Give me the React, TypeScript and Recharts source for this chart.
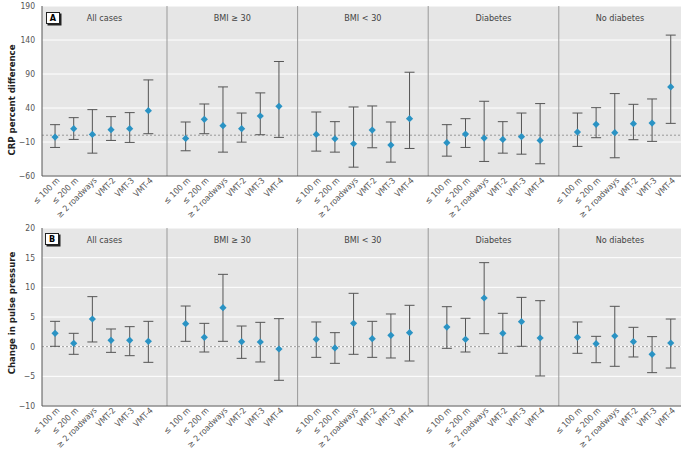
import React from 'react';
import {
  ComposedChart, Scatter, ErrorBar, XAxis, YAxis,
  CartesianGrid, ReferenceLine, ReferenceArea
} from 'recharts';

const facets = ['All cases', 'BMI ≥ 30', 'BMI < 30', 'Diabetes', 'No diabetes'];
const exposures = ['≤ 100 m', '≤ 200 m', '≥ 2 roadways', 'VMT-2', 'VMT-3', 'VMT-4'];

// Panel A - CRP percent difference (one row per facet)
const crpEst = [
  [-2.8, 9.6, 1.2, 8.1, 9.6, 36.1],
  [-4.7, 23.3, 14, 9.6, 28.2, 42.5],
  [1.2, -5.2, -12.6, 7.6, -14.5, 24.3],
  [-11, 1.7, -4.2, -6.2, -2.2, -7.7],
  [4.6, 16, 3.7, 17, 17.9, 71],
];
const crpLow = [
  [-18, -6.2, -26.4, -7.7, -10.6, 2.2],
  [-22.9, 2.2, -24.9, -10.2, 0.7, -3.2],
  [-23.4, -24.9, -47, -18.5, -39.6, -19.5],
  [-30.8, -18, -38.6, -26.4, -27.9, -42],
  [-16.5, -3.7, -33.2, -6.6, -9.1, 17.4],
];
const crpHigh = [
  [15.5, 25.8, 37.6, 27.3, 33.2, 81.3],
  [19.4, 45.9, 71, 32.6, 62.2, 108.4],
  [34.1, 19.9, 41.5, 43, 19.4, 92.6],
  [15.5, 24.3, 49.9, 19.9, 32.6, 46.5],
  [32.6, 40.5, 61.2, 45.4, 53.3, 147.2],
];

// Panel B - change in pulse pressure
const ppEst = [
  [2.25, 0.56, 4.66, 1.07, 1.07, 0.9],
  [3.88, 1.57, 6.57, 0.84, 0.79, -0.39],
  [1.24, -0.22, 3.93, 1.35, 1.91, 2.36],
  [3.31, 1.24, 8.2, 2.25, 4.21, 1.46],
  [1.57, 0.51, 1.8, 0.84, -1.29, 0.62],
];
const ppLow = [
  [0.06, -1.29, 0.79, -0.96, -1.52, -2.64],
  [0.9, -0.9, 0.9, -1.97, -2.58, -5.67],
  [-1.8, -2.81, -1.29, -1.8, -1.91, -2.42],
  [-0.28, -0.9, 2.19, -1.12, 0.06, -4.94],
  [-1.12, -2.7, -3.31, -1.74, -4.38, -3.6],
];
const ppHigh = [
  [4.27, 2.25, 8.43, 2.98, 3.37, 4.27],
  [6.85, 3.93, 12.19, 3.48, 4.1, 4.72],
  [4.16, 2.36, 8.99, 4.27, 5.51, 6.97],
  [6.74, 4.78, 14.16, 5.62, 8.31, 7.75],
  [4.16, 1.74, 6.8, 3.26, 1.69, 4.66],
];

const crpTicks = [-60, -10, 40, 90, 140, 190];
const ppTicks = [-10, -5, 0, 5, 10, 15, 20];

const STEP = exposures.length + 1;
const FONT = '"Liberation Sans Narrow", "DejaVu Sans Condensed", "Roboto", sans-serif';
const DOT = '#2a93c4';

const buildRows = (est: number[][], lo: number[][], hi: number[][]) => {
  const rows: { x: number; y: number; err: number[] }[] = [];
  est.forEach((row, f) => {
    row.forEach((v, c) => {
      rows.push({ x: f * STEP + c, y: v, err: [v - lo[f][c], hi[f][c] - v] });
    });
  });
  return rows;
};

const minus = (v: number) => String(v).replace('-', '\u2212');

const Diamond = (props: any) => {
  const { cx, cy } = props;
  const r = 3.6;
  return (
    <polygon
      points={`${cx},${cy - r} ${cx + r},${cy} ${cx},${cy + r} ${cx - r},${cy}`}
      fill={DOT}
    />
  );
};

const SlantTick = (props: any) => {
  const { x, y, payload } = props;
  const label = exposures[Math.round(payload.value) % STEP];
  return (
    <g transform={`translate(${x + 5},${y + 5})`}>
      <text transform="rotate(-45)" textAnchor="end" fontSize={8.5} fill="#555" fontFamily={FONT}>
        {label}
      </text>
    </g>
  );
};

interface PanelProps {
  rows: { x: number; y: number; err: number[] }[];
  domain: [number, number];
  ticks: number[];
  height: number;
  xHeight: number;
}

const Panel: React.FC<PanelProps> = ({ rows, domain, ticks, height, xHeight }) => {
  const xTicks = rows.map(r => r.x);
  const xDomain: [number, number] = [-0.7, (facets.length - 1) * STEP + exposures.length - 1 + 0.55];
  return (
    <ComposedChart
      width={685}
      height={height}
      data={rows}
      margin={{ top: 6, right: 4, bottom: 0, left: 8 }}
    >
      <CartesianGrid vertical={false} stroke="#ffffff" fill="#e6e6e6" fillOpacity={1} />
      <XAxis
        dataKey="x"
        type="number"
        domain={xDomain}
        allowDataOverflow
        ticks={xTicks}
        interval={0}
        height={xHeight}
        axisLine={{ stroke: '#555' }}
        tickLine={false}
        tickSize={0}
        tickMargin={0}
        tick={<SlantTick />}
      />
      <YAxis
        type="number"
        domain={domain}
        ticks={ticks}
        interval={0}
        width={34}
        axisLine={{ stroke: '#555' }}
        tickLine={false}
        tickSize={0}
        tickMargin={7}
        tick={{ fontSize: 8.5, fill: '#555', fontFamily: FONT }}
        tickFormatter={minus}
      />
      {facets.map((f, i) => (
        <ReferenceArea
          key={f}
          x1={Math.max(i * STEP - 1, xDomain[0])}
          x2={Math.min(i * STEP + exposures.length, xDomain[1])}
          fill="none"
          stroke="none"
          ifOverflow="visible"
          label={{ value: f, position: 'insideTop', offset: 9, fontSize: 9, fill: '#444', fontFamily: FONT }}
        />
      ))}
      <ReferenceLine y={0} stroke="#999" strokeDasharray="2 2" />
      {facets.slice(1).map((f, i) => (
        <ReferenceLine key={f} x={(i + 1) * STEP - 1} stroke="#999" />
      ))}
      <Scatter dataKey="y" shape={<Diamond />} isAnimationActive={false}>
        <ErrorBar dataKey="err" direction="y" width={5} stroke="#555" strokeWidth={1} isAnimationActive={false} />
      </Scatter>
    </ComposedChart>
  );
};

const PanelTag: React.FC<{ letter: string; left: number; top: number }> = ({ letter, left, top }) => (
  <div
    style={{
      position: 'absolute', left, top, width: 12, height: 10,
      background: '#fff', border: '1px solid #222', boxShadow: '1.5px 1.5px 0 #222',
      fontSize: 9, fontWeight: 'bold', lineHeight: '10px', textAlign: 'center', fontFamily: FONT
    }}
  >
    {letter}
  </div>
);

const AxisTitle: React.FC<{ text: string; cy: number }> = ({ text, cy }) => (
  <div
    style={{
      position: 'absolute', left: 11, top: cy, transform: 'translate(-50%, -50%) rotate(-90deg)',
      whiteSpace: 'nowrap', fontSize: 9.5, fontWeight: 'bold', color: '#222', fontFamily: FONT
    }}
  >
    {text}
  </div>
);

export default function App() {
  const crpRows = buildRows(crpEst, crpLow, crpHigh);
  const ppRows = buildRows(ppEst, ppLow, ppHigh);
  return (
    <div style={{ position: 'absolute', left: 0, top: 0, width: 685, height: 449, background: '#fff', fontFamily: FONT }}>
      <div style={{ position: 'absolute', left: 0, top: 0 }}>
        <Panel rows={crpRows} domain={[-60, 190]} ticks={crpTicks} height={220} xHeight={44} />
      </div>
      <div style={{ position: 'absolute', left: 0, top: 222 }}>
        <Panel rows={ppRows} domain={[-10, 20]} ticks={ppTicks} height={227} xHeight={43} />
      </div>
      <PanelTag letter="A" left={46} top={12} />
      <PanelTag letter="B" left={45} top={233} />
      <AxisTitle text="CRP percent difference" cy={100} />
      <AxisTitle text="Change in pulse pressure" cy={313} />
    </div>
  );
}
